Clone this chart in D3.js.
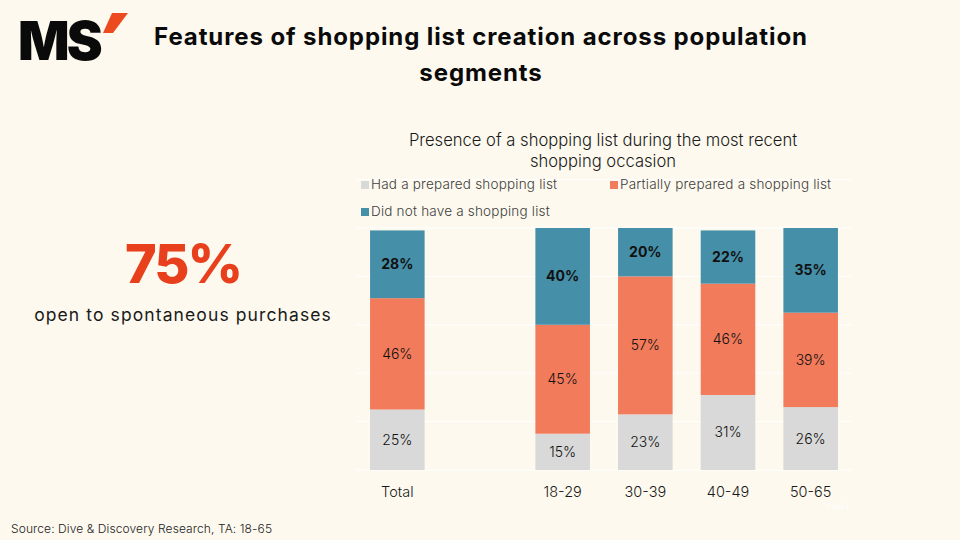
<!DOCTYPE html>
<html>
    <head>
        <meta charset="utf-8">
        <title>Shopping list creation</title>
        <style>
body {
    margin: 0;
    background-color: #fdf9ee;
}

svg {
    display: block;
    background-color: #fdf9ee;
    font-family: Inter, "Noto Sans", sans-serif;
}
</style>
        <script src="https://cdn.jsdelivr.net/npm/d3@7"></script>
    </head>
    <body>
        <script>
var width = 960,
    height = 540;

// data
var categories = ["Total", " ", "18-29", "30-39", "40-49", "50-65"];
var seriesNames = ["Had a prepared shopping list", "Partially prepared a shopping list", "Did not have a shopping list"];
var hadList = [25, null, 15, 23, 31, 26];
var partialList = [46, null, 45, 57, 46, 39];
var noList = [28, null, 40, 20, 22, 35];
var gridTicks = [0, 20, 40, 60, 80, 100, 120];

var colors = ["#d9d9d9", "#f27b5c", "#468fa8"];

var svg = d3.select('body')
    .append('svg')
    .attr('width', width)
    .attr('height', height);

// logo
svg.append("text")
    .attr("x", 18)
    .attr("y", 60)
    .attr("font-size", 54)
    .attr("font-weight", 900)
    .attr("fill", "#0a0a0a")
    .attr("letter-spacing", -3)
    .text("MS");
svg.append("polygon")
    .attr("points", "112,13 128,13 113,33 103,33")
    .attr("fill", "#ec4b1f");

// title
var title = svg.append("text")
    .attr("text-anchor", "middle")
    .attr("font-size", 24)
    .attr("font-weight", 700)
    .attr("letter-spacing", 0.9)
    .attr("fill", "#0a0a0a");
title.append("tspan").attr("x", 481).attr("y", 45).text("Features of shopping list creation across population");
title.append("tspan").attr("x", 481).attr("y", 81).text("segments");

// headline figure
svg.append("text")
    .attr("x", 183)
    .attr("y", 283)
    .attr("text-anchor", "middle")
    .attr("font-size", 54)
    .attr("font-weight", 800)
    .attr("letter-spacing", -2)
    .attr("fill", "#e8401c")
    .text("75%");
svg.append("text")
    .attr("x", 183)
    .attr("y", 321)
    .attr("text-anchor", "middle")
    .attr("font-size", 17.5)
    .attr("letter-spacing", 1.1)
    .attr("fill", "#1a1a1a")
    .text("open to spontaneous purchases");

// chart title
var chartTitle = svg.append("text")
    .attr("text-anchor", "middle")
    .attr("font-size", 16.6)
    .attr("font-weight", 300)
    .attr("fill", "#1a1a1a");
chartTitle.append("tspan").attr("x", 603).attr("y", 146).text("Presence of a shopping list during the most recent");
chartTitle.append("tspan").attr("x", 603).attr("y", 167).text("shopping occasion");

var x = d3.scaleBand()
    .domain(categories)
    .range([356, 852])
    .paddingInner(0.34)
    .paddingOuter(0.17);

var y = d3.scaleLinear()
    .domain([0, 120])
    .range([470, 179.6]);

// gridlines
svg.append("g")
    .selectAll("line")
    .data(gridTicks)
    .enter().append("line")
    .attr("x1", 356)
    .attr("x2", 852)
    .attr("y1", function (d) { return y(d); })
    .attr("y2", function (d) { return y(d); })
    .attr("stroke", "#ffffff")
    .attr("stroke-width", 1);

// stacked bars
var rows = categories.map(function (c, i) {
    return { cat: c, had: hadList[i], partial: partialList[i], none: noList[i] };
}).filter(function (d) { return d.had !== null; });

var stack = d3.stack().keys(["had", "partial", "none"]);
var layers = stack(rows);

var layer = svg.append("g")
    .selectAll("g")
    .data(layers)
    .enter().append("g")
    .attr("fill", function (d, i) { return colors[i]; });

layer.selectAll("rect")
    .data(function (d) { return d; })
    .enter().append("rect")
    .attr("x", function (d) { return x(d.data.cat); })
    .attr("width", x.bandwidth())
    .attr("y", function (d) { return y(d[1]); })
    .attr("height", function (d) { return y(d[0]) - y(d[1]); });

layer.selectAll("text")
    .data(function (d) { return d.map(function (p) { return { p: p, key: d.key }; }); })
    .enter().append("text")
    .attr("x", function (d) { return x(d.p.data.cat) + x.bandwidth() / 2; })
    .attr("y", function (d) { return (y(d.p[0]) + y(d.p[1])) / 2 + 5; })
    .attr("text-anchor", "middle")
    .attr("font-size", 14)
    .attr("font-weight", function (d) { return d.key === "none" ? 700 : 300; })
    .attr("fill", "#111")
    .text(function (d) { return d.p.data[d.key] + "%"; });

// category axis
var xAxis = svg.append("g")
    .attr("transform", "translate(0,470)")
    .call(d3.axisBottom(x).tickSize(0).tickPadding(17));
xAxis.select(".domain").remove();
xAxis.selectAll("text")
    .attr("font-family", "Inter, 'Noto Sans', sans-serif")
    .attr("font-size", 14.5)
    .attr("font-weight", 300)
    .attr("fill", "#1a1a1a");

// legend
var legendPos = [[361, 181], [610, 181], [361, 208]];
var legend = svg.append("g")
    .selectAll("g")
    .data(seriesNames)
    .enter().append("g")
    .attr("transform", function (d, i) { return "translate(" + legendPos[i][0] + "," + legendPos[i][1] + ")"; });
legend.append("rect")
    .attr("width", 8)
    .attr("height", 8)
    .attr("fill", function (d, i) { return colors[i]; });
legend.append("text")
    .attr("x", 10)
    .attr("y", 8)
    .attr("font-size", 13.5)
    .attr("font-weight", 300)
    .attr("letter-spacing", 0.2)
    .attr("fill", "#404040")
    .text(function (d) { return d; });

// footer
svg.append("text")
    .attr("x", 11)
    .attr("y", 533)
    .attr("font-size", 12)
    .attr("font-weight", 300)
    .attr("letter-spacing", 0.1)
    .attr("fill", "#222")
    .text("Source: Dive & Discovery Research, TA: 18-65");
svg.append("text")
    .attr("x", 827)
    .attr("y", 509)
    .attr("font-size", 7)
    .attr("fill", "#ffffff")
    .text("Page 1");

        </script>
    </body>
</html>
